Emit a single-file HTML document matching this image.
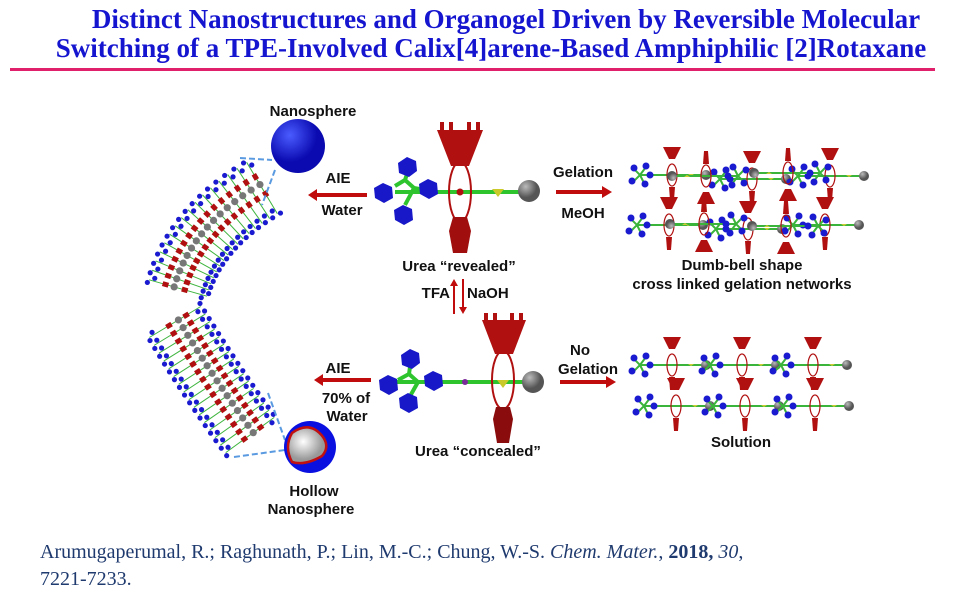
<!DOCTYPE html>
<html><head><meta charset="utf-8"><style>
html,body{margin:0;padding:0;background:#fff;width:960px;height:600px;overflow:hidden}
.t{position:absolute;left:0;width:960px;text-align:center;font-family:"Liberation Serif",serif;font-weight:bold;color:#1515d0;font-size:27px;white-space:nowrap}
.c{position:absolute;left:40px;font-family:"Liberation Serif",serif;font-size:20px;color:#1f3a6e;white-space:nowrap}
svg text{font-family:"Liberation Sans",sans-serif;font-weight:bold;font-size:15px;fill:#111}
</style></head><body>
<div class="t" style="top:4px;left:26px">Distinct Nanostructures and Organogel Driven by Reversible Molecular</div>
<div class="t" style="top:33px;left:11px">Switching of a TPE-Involved Calix[4]arene-Based Amphiphilic [2]Rotaxane</div>
<div style="position:absolute;left:10px;top:68px;width:925px;height:3px;background:#e0206a"></div>
<div class="c" style="top:541px">Arumugaperumal, R.; Raghunath, P.; Lin, M.-C.; Chung, W.-S. <i>Chem. Mater.</i>, <b>2018,</b> <i>30</i>,</div>
<div class="c" style="top:568px">7221-7233.</div>
<svg id="s" width="960" height="600" style="position:absolute;left:0;top:0">
<defs>
<radialGradient id="bl" cx="35%" cy="30%"><stop offset="0" stop-color="#4a5cff"/><stop offset="1" stop-color="#0a0ab0"/></radialGradient>
<radialGradient id="gr" cx="35%" cy="30%"><stop offset="0" stop-color="#bbb"/><stop offset="1" stop-color="#555"/></radialGradient>
<radialGradient id="wh" cx="40%" cy="40%"><stop offset="0" stop-color="#fff"/><stop offset="1" stop-color="#999"/></radialGradient>
<g id="mini">
<line x1="-32" y1="0" x2="34" y2="0" stroke="#3bb43b" stroke-width="2"/>
<path d="M-32 0 l-6 -6 M-32 0 l-6 6 M-32 0 l6 -8 M-32 0 l4 8" stroke="#3bb43b" stroke-width="2"/>
<circle cx="-38" cy="-7" r="3.5" fill="#1a1ad0"/><circle cx="-40" cy="6" r="3.5" fill="#1a1ad0"/><circle cx="-26" cy="-9" r="3.5" fill="#1a1ad0"/><circle cx="-27" cy="9" r="3.5" fill="#1a1ad0"/><circle cx="-22" cy="0" r="3.5" fill="#1a1ad0"/>
<path d="M-9 -28 h18 l-6 12 h-6z" fill="#b01010"/>
<ellipse cx="0" cy="0" rx="5" ry="11" fill="none" stroke="#b01010" stroke-width="1.2"/>
<path d="M-3 12 h6 l-1 13 h-4z" fill="#b01010"/>
<path d="M16 -1 l3 2 l3 -2z" fill="#cc3"/>
<circle cx="34" cy="0" r="5" fill="url(#gr)"/>
</g>
</defs>
<g id="fib"></g>
<line x1="395" y1="192" x2="528" y2="192" stroke="#2ec42e" stroke-width="4"/>
<path d="M409 168 L405 180 L395 186 M405 180 L414 188 L405 205 M414 188 L425 190" stroke="#2ec42e" stroke-width="4" fill="none"/>
<g fill="#1818c8">
<polygon points="407,157 416,161 417,171 409,177 399,173 398,163"/>
<polygon points="383,183 392,187 393,198 384,203 375,198 374,188"/>
<polygon points="428,179 437,183 438,194 429,199 420,194 419,184"/>
<polygon points="403,205 412,209 413,220 404,225 395,220 394,210"/>
</g>
<path d="M437 130 h46 l-14 36 h-18z" fill="#b01010"/>
<path d="M440 122 h4 v9 h-4z M449 122 h4 v9 h-4z M467 122 h4 v9 h-4z M476 122 h4 v9 h-4z" fill="#b01010"/>
<ellipse cx="460" cy="192" rx="11" ry="30" fill="none" stroke="#b01010" stroke-width="2"/>
<path d="M453 217 h14 l4 14 l-4 22 h-14 l-4 -22z" fill="#a00e0e"/>
<circle cx="460" cy="192" r="3.5" fill="#b01010"/>
<path d="M492 189 h12 l-6 8z" fill="#c9c92a"/>
<circle cx="529" cy="191" r="11" fill="url(#gr)"/>
<line x1="395" y1="382" x2="532" y2="382" stroke="#2ec42e" stroke-width="4"/>
<path d="M411 360 L409 374 L398 380 M409 374 L418 382 L409 398 M418 382 L430 382" stroke="#2ec42e" stroke-width="4" fill="none"/>
<g fill="#1818c8">
<polygon points="410,349 419,353 420,363 412,369 402,365 401,355"/>
<polygon points="388,375 397,379 398,390 389,395 380,390 379,380"/>
<polygon points="433,371 442,375 443,386 434,391 425,386 424,376"/>
<polygon points="408,393 417,397 418,408 409,413 400,408 399,398"/>
</g>
<path d="M482 320 h44 l-13 34 h-18z" fill="#b01010"/>
<path d="M484 313 h4 v8 h-4z M493 313 h4 v8 h-4z M510 313 h4 v8 h-4z M519 313 h4 v8 h-4z" fill="#b01010"/>
<ellipse cx="503" cy="380" rx="11" ry="29" fill="none" stroke="#b01010" stroke-width="2"/>
<path d="M496 407 h14 l3 12 l-4 24 h-12 l-4 -24z" fill="#8a0c0c"/>
<circle cx="465" cy="382" r="3" fill="#7a2a9a"/>
<path d="M497 380 h12 l-6 8z" fill="#c9c92a"/>
<circle cx="533" cy="382" r="11" fill="url(#gr)"/>
<g fill="#c00c0c">
<path d="M367 193 h-50 v-4 l-9 6 l9 6 v-4 h50z"/>
<path d="M371 378 h-48 v-4 l-9 6 l9 6 v-4 h48z"/>
<path d="M556 190 h46 v-4 l10 6 l-10 6 v-4 h-46z"/>
<path d="M560 380 h46 v-4 l10 6 l-10 6 v-4 h-46z"/>
<path d="M453 314 v-28 h-3 l4 -7 l4 7 h-3 v28z"/>
<path d="M462 279 v28 h-3 l4 7 l4 -7 h-3 v-28z"/>
</g>
<text x="338" y="183" text-anchor="middle">AIE</text>
<text x="342" y="215" text-anchor="middle">Water</text>
<text x="583" y="177" text-anchor="middle">Gelation</text>
<text x="583" y="218" text-anchor="middle">MeOH</text>
<text x="459" y="271" text-anchor="middle">Urea “revealed”</text>
<text x="450" y="298" text-anchor="end">TFA</text>
<text x="467" y="298">NaOH</text>
<text x="338" y="373" text-anchor="middle">AIE</text>
<text x="346" y="403" text-anchor="middle">70% of</text>
<text x="347" y="421" text-anchor="middle">Water</text>
<text x="580" y="355" text-anchor="middle">No</text>
<text x="588" y="374" text-anchor="middle">Gelation</text>
<text x="478" y="456" text-anchor="middle">Urea “concealed”</text>
<text x="742" y="270" text-anchor="middle">Dumb-bell shape</text>
<text x="742" y="289" text-anchor="middle">cross linked gelation networks</text>
<text x="741" y="447" text-anchor="middle">Solution</text>
<text x="313" y="116" text-anchor="middle">Nanosphere</text>
<text x="314" y="496" text-anchor="middle">Hollow</text>
<text x="311" y="514" text-anchor="middle">Nanosphere</text>
<line x1="240" y1="158" x2="272" y2="160" stroke="#5a9ae0" stroke-width="2" stroke-dasharray="6,3"/>
<line x1="275" y1="170" x2="262" y2="205" stroke="#5a9ae0" stroke-width="2" stroke-dasharray="6,3"/>
<circle cx="298" cy="146" r="27" fill="url(#bl)"/>
<line x1="268" y1="393" x2="285" y2="440" stroke="#5a9ae0" stroke-width="2" stroke-dasharray="6,3"/>
<line x1="234" y1="457" x2="285" y2="450" stroke="#5a9ae0" stroke-width="2" stroke-dasharray="6,3"/>
<circle cx="310" cy="447" r="26" fill="#0a10e0"/>
<path d="M292 433 Q310 420 323 437 Q330 447 322 456 Q305 466 292 462 Q284 447 292 433z" fill="url(#wh)" stroke="#c01010" stroke-width="2.5"/>
<use href="#mini" x="672" y="175"/><use href="#mini" x="752" y="179"/><use href="#mini" x="830" y="176"/>
<use href="#mini" x="669" y="225"/><use href="#mini" x="748" y="229"/><use href="#mini" x="825" y="225"/>
<use href="#mini" transform="translate(706,176) scale(-1,-1)"/><use href="#mini" transform="translate(788,173) scale(-1,-1)"/>
<use href="#mini" transform="translate(704,224) scale(-1,-1)"/><use href="#mini" transform="translate(786,226) scale(-1,-1)"/>
<use href="#mini" x="672" y="365"/><use href="#mini" x="742" y="365"/><use href="#mini" x="813" y="365"/>
<use href="#mini" x="676" y="406"/><use href="#mini" x="745" y="406"/><use href="#mini" x="815" y="406"/>
</svg>
<script>
(function(){
var g=document.getElementById('fib'),ns='http://www.w3.org/2000/svg';
function el(t,a){var e=document.createElementNS(ns,t);for(var k in a)e.setAttribute(k,a[k]);g.appendChild(e);}
function band(p0,p1,p2,n){
for(var i=0;i<n;i++){var t=i/(n-1);
var x=(1-t)*(1-t)*p0[0]+2*t*(1-t)*p1[0]+t*t*p2[0],y=(1-t)*(1-t)*p0[1]+2*t*(1-t)*p1[1]+t*t*p2[1];
var dx=2*(1-t)*(p1[0]-p0[0])+2*t*(p2[0]-p1[0]),dy=2*(1-t)*(p1[1]-p0[1])+2*t*(p2[1]-p1[1]);var L=Math.hypot(dx,dy);var nx=-dy/L,ny=dx/L;
el('line',{x1:x-nx*30,y1:y-ny*30,x2:x+nx*30,y2:y+ny*30,stroke:'#3cb43c','stroke-width':1});
[-31,-25,25,31].forEach(function(o,j){el('circle',{cx:x+nx*o+(j%2?3:-3)*dx/L,cy:y+ny*o+(j%2?3:-3)*dy/L,r:2.6,fill:'#1a1ad0'});});
el('circle',{cx:x-nx*4,cy:y-ny*4,r:3.6,fill:'#777'});
el('line',{x1:x-nx*16,y1:y-ny*16,x2:x-nx*10,y2:y-ny*10,stroke:'#b01010','stroke-width':5});
el('line',{x1:x+nx*4,y1:y+ny*4,x2:x+nx*10,y2:y+ny*10,stroke:'#b01010','stroke-width':5});
}}
band([178,288],[195,228],[262,188],16);
band([175,322],[210,380],[250,435],16);
})();
</script>
</body></html>
